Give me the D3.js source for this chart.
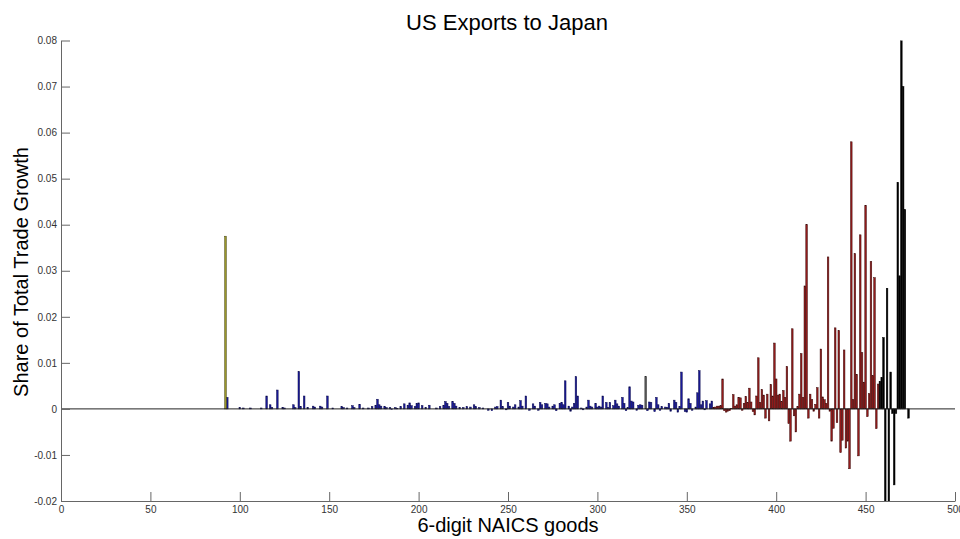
<!DOCTYPE html>
<html><head><meta charset="utf-8">
<script src="https://cdn.jsdelivr.net/npm/d3@7"></script>
<style>body{margin:0;background:#fff;} text{font-family:Arial,"Liberation Sans",sans-serif;}</style>
</head><body>
<svg id="chart" width="960" height="539"></svg>
<script>
// ---- data ----
const xTickValues = [0,50,100,150,200,250,300,350,400,450,500];
const yTickValues = [-0.02,-0.01,0,0.01,0.02,0.03,0.04,0.05,0.06,0.07,0.08];
const titleText = "US Exports to Japan";
const xLabelText = "6-digit NAICS goods";
const yLabelText = "Share of Total Trade Growth";

const oliveIdx = [92];
const oliveVal = [0.0375];

const grayIdx = [327];
const grayVal = [0.0070];

const blueIdx = [93,100,102,106,112,115,117,118,121,124,125,130,131,133,134,136,138,141,142,145,146,149,152,157,158,160,163,164,167,169,172,174,176,177,178,179,181,182,184,185,187,188,190,192,194,195,196,198,199,200,202,204,206,210,212,214,215,216,217,219,220,221,223,225,227,229,231,232,234,236,239,241,243,244,246,247,249,250,251,253,254,256,257,258,260,262,264,265,267,268,269,271,272,273,275,276,277,279,280,281,282,284,285,286,287,288,289,291,292,294,295,296,297,299,300,301,302,303,305,306,307,309,310,311,312,314,315,316,317,318,319,320,322,323,324,325,328,329,330,332,333,334,335,336,338,339,340,341,343,344,345,346,347,349,350,351,352,353,355,356,357,358,359,360,361,363,364];
const blueVal = [0.0025,0.0003,0.0002,0.0002,0.0002,0.0028,0.0009,0.0003,0.0041,0.0003,0.0002,0.0009,0.0003,0.0081,0.0005,0.0028,0.0003,0.0006,0.0004,0.0006,0.0004,0.0028,0.0002,0.0005,0.0003,0.0002,0.0007,0.0003,0.0010,0.0002,0.0002,0.0005,0.0008,0.0021,0.0009,0.0006,0.0005,0.0003,0.0003,-0.0001,0.0003,0.0001,0.0005,0.0011,0.0008,0.0013,0.0007,0.0005,0.0012,0.0013,0.0007,0.0003,0.0008,0.0002,0.0005,0.0008,0.0016,0.0012,0.0005,0.0016,0.0012,0.0006,0.0003,0.0003,0.0005,0.0004,0.0009,0.0005,0.0003,0.0002,-0.0003,-0.0004,0.0004,0.0005,0.0019,0.0005,-0.0002,0.0014,0.0006,0.0004,0.0009,0.0004,0.0018,0.0006,0.0028,-0.0003,0.0011,0.0006,-0.0003,0.0014,0.0009,0.0012,0.0011,0.0004,0.0006,0.0009,-0.0004,0.0012,0.0014,0.0009,0.0061,0.0006,-0.0005,0.0004,0.0012,0.0070,0.0028,0.0002,-0.0002,0.0004,0.0019,0.0006,0.0004,0.0012,0.0004,0.0006,0.0004,0.0028,0.0014,0.0003,0.0014,0.0007,0.0019,0.0011,0.0006,0.0025,0.0012,-0.0004,0.0003,0.0048,0.0017,0.0015,-0.0003,0.0008,0.0009,0.0008,-0.0004,0.0015,0.0014,-0.0006,0.0025,0.0009,-0.0003,0.0005,0.0004,0.0003,0.0012,-0.0005,0.0019,0.0014,-0.0007,0.0005,0.0080,-0.0006,-0.0007,0.0022,0.0012,-0.0003,0.0004,0.0035,0.0083,0.0009,0.0017,-0.0002,0.0018,0.0011,0.0017];

const redIdx = [365,366,367,368,369,370,371,372,373,374,375,376,377,378,379,380,381,382,383,384,385,386,387,388,389,390,391,392,393,394,395,396,397,398,399,400,401,402,403,404,405,406,407,408,409,410,411,412,413,414,415,416,417,418,419,420,421,422,423,424,425,426,427,428,429,430,431,432,433,434,435,436,437,438,439,440,441,442,443,444,445,446,447,448,449,450,451,452,453,454,455,456,457];
const redVal = [0.0003,0.0004,0.0006,0.0006,0.0007,0.0065,-0.0004,-0.0007,-0.0005,-0.0004,0.0001,0.0031,0.0006,0.0009,0.0025,0.0024,-0.0003,0.0012,0.0027,0.0014,0.0045,0.0015,-0.0006,-0.0013,0.0028,0.0111,0.0014,0.0042,0.0030,-0.0020,0.0032,-0.0026,0.0053,0.0028,0.0143,0.0065,0.0030,0.0032,0.0016,0.0040,0.0025,0.0092,-0.0032,-0.0070,0.0174,-0.0015,-0.0050,0.0005,0.0032,0.0120,0.0025,0.0267,0.0400,-0.0020,0.0032,0.0020,-0.0005,0.0010,0.0046,-0.0020,0.0130,0.0026,0.0020,0.0012,0.0330,-0.0005,-0.0070,-0.0042,0.0176,-0.0030,0.0170,-0.0095,-0.0068,0.0128,-0.0085,-0.0070,-0.0130,0.0580,0.0020,0.0337,0.0075,-0.0102,0.0378,0.0122,0.0058,0.0442,-0.0017,0.0033,0.0320,0.0072,0.0285,-0.0043,0.0054];

const blackIdx = [458,459,460,461,462,463,464,465,466,467,468,469,470,471,472,474];
const blackVal = [0.0060,0.0068,0.0155,-0.0250,0.0262,-0.0250,0.0080,-0.0010,-0.0165,-0.0010,0.0492,0.0289,0.0800,0.0700,0.0433,-0.0020];

// ---- chart ----
const svg = d3.select("#chart");
const x = d3.scaleLinear().domain([0,500]).range([61,955]);
const y = d3.scaleLinear().domain([-0.02,0.08]).range([501,40.5]);

svg.append("defs").append("clipPath").attr("id","plotclip")
  .append("rect").attr("x",x(0)).attr("y",y(0.08)).attr("width",x(500)-x(0)).attr("height",y(-0.02)-y(0.08));

const barW = (x(1)-x(0))*0.9;
const series = [
  {idx: blueIdx, val: blueVal, fill:"#1a1a9a", stroke:"#0a0a4a"},
  {idx: redIdx, val: redVal, fill:"#941c1c", stroke:"#3a0808"},
  {idx: blackIdx, val: blackVal, fill:"#000000", stroke:"#000000"},
  {idx: oliveIdx, val: oliveVal, fill:"#9a9628", stroke:"#40400c"},
  {idx: grayIdx, val: grayVal, fill:"#5a5a5a", stroke:"#222222"}
];
const g = svg.append("g").attr("clip-path","url(#plotclip)");
series.forEach(s => {
  const data = s.idx.map((i,k)=>({i, v:s.val[k]}));
  g.append("g").selectAll("rect").data(data).join("rect")
    .attr("x", d => x(d.i) - barW/2)
    .attr("width", barW)
    .attr("y", d => y(Math.max(0,d.v)))
    .attr("height", d => Math.abs(y(d.v)-y(0)))
    .attr("fill", s.fill)
    .attr("stroke", s.stroke)
    .attr("stroke-width", 0.5);
});

// baseline
svg.append("line").attr("x1",x(0)).attr("x2",x(500)).attr("y1",y(0)).attr("y2",y(0))
  .attr("stroke","#222").attr("stroke-width",1);

// axes
const yAxis = d3.axisLeft(y).tickValues(yTickValues).tickSizeInner(-9).tickSizeOuter(0).tickPadding(4)
  .tickFormat(d => Math.abs(d)<1e-9 ? "0" : d.toFixed(2));
const xAxis = d3.axisBottom(x).tickValues(xTickValues).tickSizeInner(-9).tickSizeOuter(0).tickPadding(5)
  .tickFormat(d => String(d));

const gy = svg.append("g").attr("transform",`translate(${x(0)},0)`).call(yAxis);
const gx = svg.append("g").attr("transform",`translate(0,${y(-0.02)})`).call(xAxis);
[gx,gy].forEach(a=>{
  a.select(".domain").attr("stroke","#666");
  a.selectAll(".tick line").attr("stroke","#666");
  a.selectAll(".tick text").attr("fill","#333").style("font-size","10px").style("font-family","Arial,'Liberation Sans',sans-serif");
});

// titles
svg.append("text").attr("x",507).attr("y",30).attr("text-anchor","middle")
  .style("font-size","22px").attr("fill","#000").text(titleText);
svg.append("text").attr("x",508).attr("y",532).attr("text-anchor","middle")
  .style("font-size","20px").attr("fill","#000").text(xLabelText);
svg.append("text").attr("transform","translate(28,272) rotate(-90)").attr("text-anchor","middle")
  .style("font-size","20px").attr("fill","#000").text(yLabelText);
</script>
</body></html>
